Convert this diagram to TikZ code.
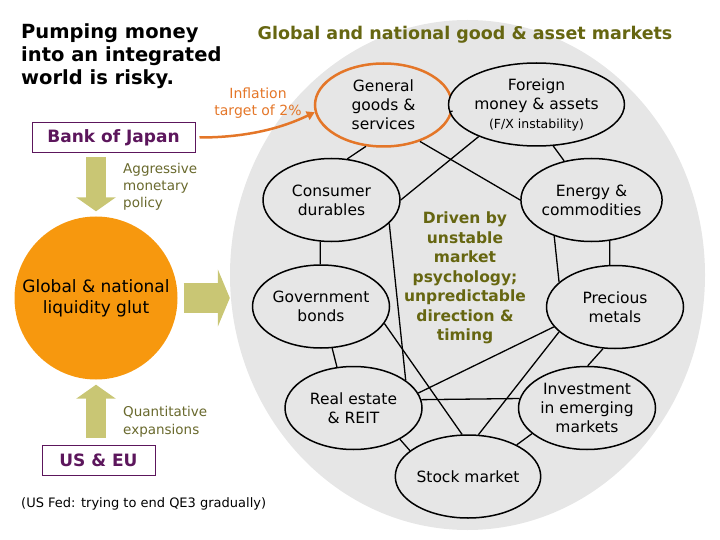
\documentclass[tikz,border=0pt]{standalone}
\usepackage{fontspec}
\setmainfont{DejaVu Sans}
\usetikzlibrary{shapes.geometric,arrows.meta}
\definecolor{mktgray}{RGB}{230,230,230}
\definecolor{glutorange}{RGB}{247,152,14}
\definecolor{khaki}{RGB}{201,198,116}
\definecolor{olivetext}{RGB}{102,102,17}
\definecolor{notetext}{RGB}{105,105,45}
\definecolor{plum}{RGB}{92,22,92}
\definecolor{inflorange}{RGB}{228,118,40}
\newcommand{\fsz}[2]{\fontsize{#1}{#2}\selectfont}

\begin{document}
\begin{tikzpicture}[x=1pt,y=-1pt,
  mkt/.style={ellipse,draw,line width=1.5pt,fill=mktgray,minimum width=137pt,minimum height=83pt,inner sep=0pt,align=center,font=\fsz{15.5}{19}},
  link/.style={line width=1.3pt},
  fat/.style={draw=khaki,line width=20pt,-{Triangle[width=39pt,length=14pt]}},
  bankbox/.style={draw=plum,line width=1pt,text=plum,inner sep=0pt,minimum height=30pt,font=\bfseries\fsz{17}{20}},
  note/.style={text=notetext,align=left,anchor=north west,inner sep=0pt}]
  \useasboundingbox (0,0) rectangle (720,540);
  \node[ellipse,fill=mktgray,minimum width=475pt,minimum height=510pt] (world) at (467.5,275) {};
  \node[font=\bfseries\fsz{17.5}{20},text=olivetext] (title) at (465,35) {Global and national good \& asset markets};

  \node[anchor=north west,align=left,inner sep=0pt,font=\bfseries\fsz{19.5}{23}] (risk) at (21,23) {Pumping money\\into an integrated\\world is risky.};
  \node[bankbox,minimum width=163pt] (boj) at (113.5,137.5) {Bank of Japan};
  \node[bankbox,minimum width=113pt] (useu) at (98.5,460) {US \& EU};
  \node[circle,fill=glutorange,minimum size=163pt,inner sep=0pt,align=center,font=\fsz{17}{21}] (glut) at (96,298) {Global \& national\\liquidity glut};
  \node[note,font=\fsz{13.5}{17}] (aggr) at (123,163) {Aggressive\\monetary\\policy};
  \node[note,font=\fsz{13.5}{18}] (qe) at (123,406) {Quantitative\\expansions};
  \node[anchor=west,inner sep=0pt,font=\fsz{13}{16}] (fed) at (21,504) {(US Fed: trying to end QE3 gradually)};
  \node[text=inflorange,align=center,font=\fsz{14}{17}] (infl) at (258,103) {Inflation\\target of 2\%};

  \node[mkt,draw=inflorange,line width=2.5pt] (goods) at (383.5,105) {General\\goods \&\\services};
  \node[mkt] (forex) at (536.5,104.5) {Foreign\\money \& assets\\{\fsz{12.5}{14}(F/X instability)}};
  \node[mkt] (durable) at (331.5,200) {Consumer\\durables};
  \node[mkt] (energy) at (591.5,200) {Energy \&\\commodities};
  \node[mkt] (bonds) at (321,306.5) {Government\\bonds};
  \node[mkt] (metals) at (615,307) {Precious\\metals};
  \node[mkt] (estate) at (353.5,408) {Real estate\\\& REIT};
  \node[mkt] (emerging) at (587,408) {Investment\\in emerging\\markets};
  \node[mkt] (stocks) at (468,476.5) {Stock market};
  \node[align=center,text=olivetext,font=\bfseries\fsz{15.5}{19.5}] (psych) at (465,278) {Driven by\\unstable\\market\\psychology;\\unpredictable\\direction \&\\timing};

  \draw[link] (goods.-5) -- (forex.185);
  \draw[link] (goods.247) -- (durable.69);
  \draw[link] (goods.-45) -- (energy.180);
  \draw[link] (forex.209) -- (durable.0);
  \draw[link] (forex.-68) -- (energy.125);
  \draw[link] (durable.255) -- (bonds.91);
  \draw[link] (durable.-22) -- (estate.28);
  \draw[link] (energy.-66) -- (metals.97);
  \draw[link] (energy.224) -- (metals.156);
  \draw[link] (bonds.-75) -- (estate.112);
  \draw[link] (bonds.-15) -- (stocks.98);
  \draw[link] (metals.198) -- (estate.13);
  \draw[link] (metals.204) -- (stocks.76);
  \draw[link] (metals.254) -- (emerging.89);
  \draw[link] (estate.7.5) -- (emerging.172);
  \draw[link] (estate.-34) -- (stocks.156);
  \draw[link] (emerging.205) -- (stocks.33);

  \draw[fat,shorten <=4pt,shorten >=5pt] (glut.north |- boj.south) -- (glut.north);
  \draw[fat,shorten <=7pt,shorten >=5pt] (glut.south |- useu.north) -- (glut.south);
  \draw[fat,line width=30pt,-{Triangle[width=57pt,length=12pt]},shorten <=6pt] (glut.east) -- (glut.east -| world.west);
  \draw[inflorange,line width=2.5pt,-{Triangle[width=9pt,length=8pt]},shorten <=4pt] (boj.east) .. controls +(60,0) and +(-25,12) .. (goods.186);
\end{tikzpicture}
\end{document}
